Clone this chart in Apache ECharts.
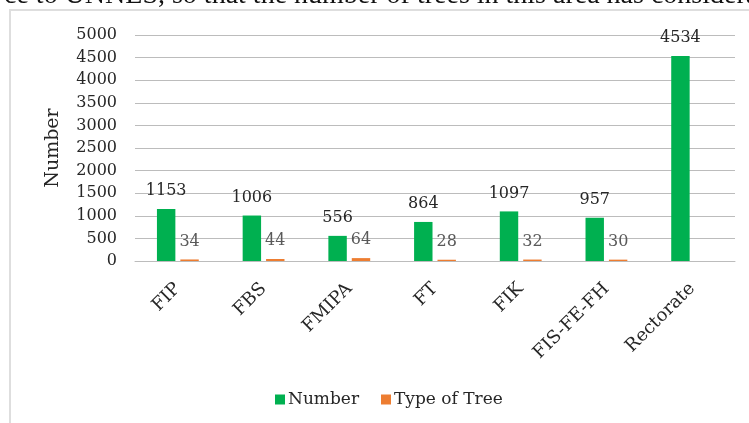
<!DOCTYPE html>
<html>
<head>
<meta charset="utf-8">
<script src="https://cdn.jsdelivr.net/npm/echarts@6/dist/echarts.min.js"></script>
<style>
html,body{margin:0;padding:0;background:#fff;}
#chart{width:749px;height:423px;}
</style>
</head>
<body>
<div id="chart"></div>
<script>
const categories = ['FIP', 'FBS', 'FMIPA', 'FT', 'FIK', 'FIS-FE-FH', 'Rectorate'];
const numberValues = [1153, 1006, 556, 864, 1097, 957, 4534];
const typeValues = [34, 44, 64, 28, 32, 30, null];
const yTicks = [0, 500, 1000, 1500, 2000, 2500, 3000, 3500, 4000, 4500, 5000];
const seriesNames = ['Number', 'Type of Tree'];
const clippedText = 'ce to UNNES, so that the number of trees in this area has considera';

const FONT = 'DejaVu Serif';
const chart = echarts.init(document.getElementById('chart'));
chart.setOption({
  backgroundColor: '#ffffff',
  animation: false,
  graphic: [
    {
      type: 'rect',
      shape: { x: 10, y: 10, width: 900, height: 600 },
      style: { fill: 'none', stroke: '#dedede', lineWidth: 2 },
      silent: true
    },
    {
      type: 'text',
      x: 4,
      y: -18,
      style: {
        text: clippedText,
        font: '28px "Liberation Serif"',
        fill: '#111',
        verticalAlign: 'top'
      },
      silent: true
    }
  ],
  grid: { left: 135, right: 14, top: 35, bottom: 162, containLabel: false },
  legend: {
    data: seriesNames,
    left: 270,
    top: 386,
    icon: 'rect',
    itemWidth: 10,
    itemHeight: 10,
    itemGap: 22,
    textStyle: { fontFamily: FONT, fontSize: 17, color: '#262626', padding: [0, 0, 0, -2] }
  },
  xAxis: {
    type: 'category',
    data: categories,
    axisLine: { show: true, lineStyle: { color: '#bcbcbc', width: 1 } },
    axisTick: { show: false },
    axisLabel: {
      rotate: 45,
      interval: 0,
      margin: 25,
      fontFamily: FONT,
      fontSize: 18,
      color: '#262626'
    }
  },
  yAxis: {
    type: 'value',
    min: yTicks[0],
    max: yTicks[yTicks.length - 1],
    interval: 500,
    name: 'Number',
    nameLocation: 'middle',
    nameGap: 72,
    nameTextStyle: { fontFamily: FONT, fontSize: 19, color: '#262626' },
    axisLine: { show: false },
    axisTick: { show: false },
    splitLine: { lineStyle: { color: '#bcbcbc', width: 1 } },
    axisLabel: {
      fontFamily: FONT, fontSize: 16, color: '#262626', margin: 18,
      formatter: function (v) { return String(v); }
    }
  },
  series: [
    {
      name: seriesNames[0],
      type: 'bar',
      data: numberValues,
      barWidth: '21.5%',
      barGap: '27%',
      itemStyle: { color: '#00B050' },
      label: {
        show: true,
        position: 'top',
        distance: 10,
        fontFamily: FONT,
        fontSize: 16,
        color: '#262626'
      }
    },
    {
      name: seriesNames[1],
      type: 'bar',
      data: typeValues,
      barWidth: '21.5%',
      itemStyle: { color: '#ED7D31' },
      label: {
        show: true,
        position: 'top',
        distance: 10,
        fontFamily: FONT,
        fontSize: 16,
        color: '#595959'
      }
    }
  ]
});
</script>
</body>
</html>
